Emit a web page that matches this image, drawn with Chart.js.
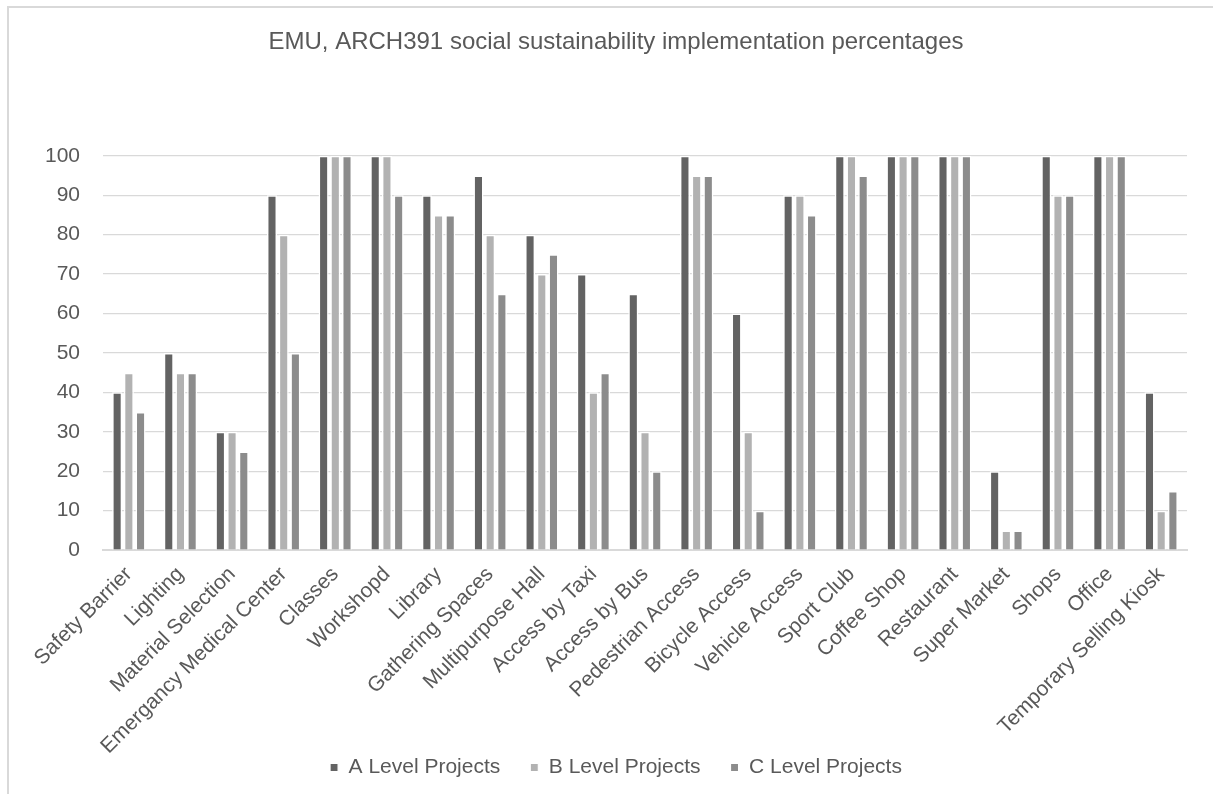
<!DOCTYPE html>
<html>
<head>
<meta charset="utf-8">
<title>EMU, ARCH391 social sustainability implementation percentages</title>
<script src="https://cdn.jsdelivr.net/npm/chart.js@4/dist/chart.umd.min.js"></script>
<style>
  html, body { margin: 0; padding: 0; background: #fff; }
  #wrap { position: relative; width: 1213px; height: 794px; overflow: hidden; }
  #frame {
    position: absolute; left: 7px; top: 6px; width: 1300px; height: 900px;
    border-top: 2px solid #d9d9d9; border-left: 2px solid #d9d9d9;
  }
  #chart { position: absolute; left: 0; top: 0; }
</style>
</head>
<body>
<div id="wrap">
  <div id="frame"></div>
  <canvas id="chart" width="1213" height="794"></canvas>
</div>
<script>
  "use strict";

  const categories = [
    "Safety Barrier", "Lighting", "Material Selection", "Emergancy Medical Center",
    "Classes", "Workshopd", "Library", "Gathering Spaces", "Multipurpose Hall",
    "Access by Taxi", "Access by Bus", "Pedestrian Access", "Bicycle Access",
    "Vehicle Access", "Sport Club", "Coffee Shop", "Restaurant", "Super Market",
    "Shops", "Office", "Temporary Selling Kiosk",
  ];

  const levelA = [40, 50, 30, 90, 100, 100, 90, 95, 80, 70, 65, 100, 60, 90, 100, 100, 100, 20, 100, 100, 40];
  const levelB = [45, 45, 30, 80, 100, 100, 85, 80, 70, 40, 30, 95, 30, 90, 100, 100, 100, 5, 90, 100, 10];
  const levelC = [35, 45, 25, 50, 100, 90, 85, 65, 75, 45, 20, 95, 10, 85, 95, 100, 100, 5, 90, 100, 15];

  const yTicks = [0, 10, 20, 30, 40, 50, 60, 70, 80, 90, 100];

  const textColor = "#595959";
  const fontFamily = "'Liberation Sans', Arial, sans-serif";

  const makeSet = (label, data, color) => ({
    label: label,
    data: data,
    backgroundColor: color,
    borderColor: "#ffffff",
    borderWidth: { top: 1.5, left: 1.5, right: 1.5, bottom: 0 },
    borderSkipped: false,
    barPercentage: 0.86,
    categoryPercentage: 0.68,
  });

  // let the slanted category labels run below the axis box without being clipped
  const unclipLabels = {
    id: "unclipLabels",
    afterLayout(chart) {
      chart.scales.x.bottom = chart.height;
    },
  };

  const ctx = document.getElementById("chart").getContext("2d");
  const chart = new Chart(ctx, {
    type: "bar",
    data: {
      labels: categories,
      datasets: [
        makeSet("A Level Projects", levelA, "#636363"),
        makeSet("B Level Projects", levelB, "#b2b2b2"),
        makeSet("C Level Projects", levelC, "#8c8c8c"),
      ],
    },
    plugins: [unclipLabels],
    options: {
      responsive: false,
      animation: false,
      devicePixelRatio: 1,
      layout: {
        padding: { left: 45, right: 26, top: 0, bottom: 6 },
      },
      scales: {
        x: {
          grid: { display: false, drawTicks: false },
          border: { color: "#d9d9d9", width: 2 },
          ticks: {
            color: textColor,
            font: { family: fontFamily, size: 21 },
            minRotation: 45,
            maxRotation: 45,
            autoSkip: false,
            padding: 12,
          },
          afterFit: (axis) => {
            axis.height -= 44;
          },
        },
        y: {
          min: 0,
          max: 100,
          afterBuildTicks: (axis) => {
            axis.ticks = yTicks.map((v) => ({ value: v }));
          },
          // tick padding is counted twice in the axis width, keep it once
          afterFit: (axis) => {
            axis.width -= 23;
          },
          grid: { color: "#d9d9d9", lineWidth: 1.3, drawTicks: false },
          border: { display: false },
          ticks: {
            color: textColor,
            font: { family: fontFamily, size: 21 },
            padding: 23,
          },
        },
      },
      plugins: {
        title: {
          display: true,
          text: "EMU, ARCH391 social sustainability implementation percentages",
          color: textColor,
          font: { family: fontFamily, size: 24, weight: "normal" },
          padding: { top: 28, bottom: 99 },
        },
        legend: {
          position: "bottom",
          labels: {
            color: textColor,
            font: { family: fontFamily, size: 21 },
            usePointStyle: true,
            pointStyle: "rect",
            boxWidth: 8,
            boxHeight: 8,
            padding: 30,
          },
        },
        tooltip: { enabled: false },
      },
    },
  });
</script>
</body>
</html>
